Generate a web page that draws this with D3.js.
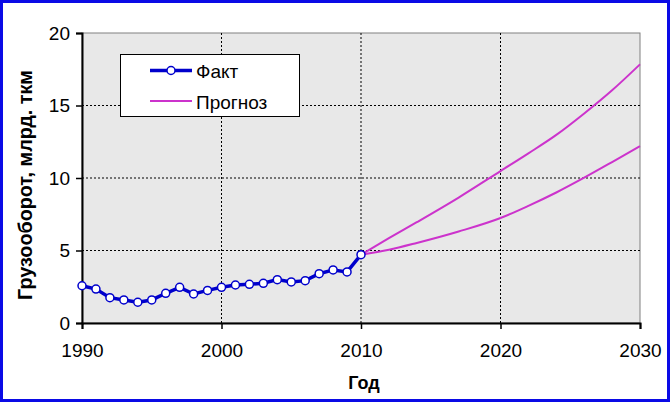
<!DOCTYPE html>
<html><head><meta charset="utf-8">
<script src="https://cdn.jsdelivr.net/npm/d3@7"></script>
<style>body{margin:0;background:#fff}svg{display:block}text{font-family:"Liberation Sans",Arial,sans-serif}</style>
</head><body><svg id="c" width="670" height="402"></svg>
<script>
const factYears = [1990,1991,1992,1993,1994,1995,1996,1997,1998,1999,2000,2001,2002,2003,2004,2005,2006,2007,2008,2009,2010];
const factValues = [2.57,2.34,1.75,1.59,1.43,1.59,2.05,2.46,2.0,2.25,2.46,2.62,2.67,2.74,2.99,2.83,2.92,3.40,3.66,3.52,4.71];
const forecastYears = [2010,2012,2014,2017,2020,2022,2024,2026,2028,2030];
const forecastHigh = [4.71,5.85,6.95,8.65,10.48,11.7,12.97,14.45,16.05,17.84];
const forecastLow = [4.71,5.05,5.52,6.31,7.24,8.08,9.0,10.02,11.1,12.2];
const xTicks = [1990,2000,2010,2020,2030];
const yTicks = [0,5,10,15,20];
const legendLabels = ["Факт","Прогноз"];
const yTitle = "Грузооборот, млрд. ткм";
const xTitle = "Год";

const svg = d3.select("#c");
svg.append("rect").attr("x",1.5).attr("y",1.5).attr("width",667).attr("height",399)
  .attr("fill","#fff").attr("stroke","#0a0ae6").attr("stroke-width",3);

const L=82, R=640, T=33, B=323;
const x = d3.scaleLinear().domain([1990,2030]).range([L,R]);
const y = d3.scaleLinear().domain([0,20]).range([B,T]);

svg.append("rect").attr("x",L).attr("y",T).attr("width",R-L).attr("height",B-T)
  .attr("fill","#e8e8e8").attr("stroke","#808080").attr("stroke-width",1);

const g = svg.append("g");
g.selectAll(".gy").data(yTicks.filter(d=>d>0&&d<20)).join("line")
  .attr("x1",L).attr("x2",R).attr("y1",d=>y(d)).attr("y2",d=>y(d))
  .attr("stroke","#000").attr("stroke-width",1).attr("stroke-dasharray","2,2");
g.selectAll(".gx").data(xTicks.filter(d=>d>1990&&d<2030)).join("line")
  .attr("y1",T).attr("y2",B).attr("x1",d=>x(d)).attr("x2",d=>x(d))
  .attr("stroke","#000").attr("stroke-width",1).attr("stroke-dasharray","2,2");

const ax = svg.append("g").attr("transform",`translate(0,${B})`)
  .call(d3.axisBottom(x).tickValues(xTicks).tickFormat(d3.format("d")).tickSize(6).tickPadding(15));
const ay = svg.append("g").attr("transform",`translate(${L},0)`)
  .call(d3.axisLeft(y).tickValues(yTicks).tickSize(6).tickPadding(6));
[ax,ay].forEach(a=>{
  a.select(".domain").attr("stroke","#000").attr("stroke-width",2);
  a.selectAll(".tick line").attr("stroke","#000").attr("stroke-width",1.5);
  a.selectAll("text").attr("font-size",19).attr("fill","#000").attr("font-family","Liberation Sans, Arial, sans-serif");
});

const line = d3.line().x(d=>x(d[0])).y(d=>y(d[1])).curve(d3.curveMonotoneX);
[forecastHigh, forecastLow].forEach(vals=>{
  svg.append("path").datum(forecastYears.map((yr,i)=>[yr,vals[i]]))
    .attr("d",line).attr("fill","none").attr("stroke","#cc33cc").attr("stroke-width",2);
});

const factData = factYears.map((yr,i)=>[yr,factValues[i]]);
svg.append("path").datum(factData).attr("d",d3.line().x(d=>x(d[0])).y(d=>y(d[1])))
  .attr("fill","none").attr("stroke","#0000cc").attr("stroke-width",3.5);
svg.selectAll(".pt").data(factData).join("circle")
  .attr("cx",d=>x(d[0])).attr("cy",d=>y(d[1])).attr("r",4)
  .attr("fill","#fff").attr("stroke","#0000cc").attr("stroke-width",1.5);

const lg = svg.append("g");
lg.append("rect").attr("x",120.5).attr("y",54.5).attr("width",179).attr("height",62)
  .attr("fill","#fff").attr("stroke","#000").attr("stroke-width",1);
lg.append("line").attr("x1",150).attr("x2",192).attr("y1",70.5).attr("y2",70.5)
  .attr("stroke","#0000cc").attr("stroke-width",3.5);
lg.append("circle").attr("cx",171).attr("cy",70.5).attr("r",4)
  .attr("fill","#fff").attr("stroke","#0000cc").attr("stroke-width",1.5);
lg.append("line").attr("x1",150).attr("x2",192).attr("y1",101).attr("y2",101)
  .attr("stroke","#cc33cc").attr("stroke-width",2);
lg.selectAll(".lt").data(legendLabels).join("text")
  .attr("x",196).attr("y",(d,i)=>78+i*31).attr("font-size",19).text(d=>d);

svg.append("text").attr("transform",`translate(32,185) rotate(-90)`)
  .attr("text-anchor","middle").attr("font-size",20).attr("font-weight","bold")
  .attr("textLength",230).attr("lengthAdjust","spacingAndGlyphs").text(yTitle);
svg.append("text").attr("x",x(2010)+3).attr("y",389).attr("text-anchor","middle")
  .attr("font-size",18).attr("font-weight","bold").text(xTitle);
</script></body></html>
